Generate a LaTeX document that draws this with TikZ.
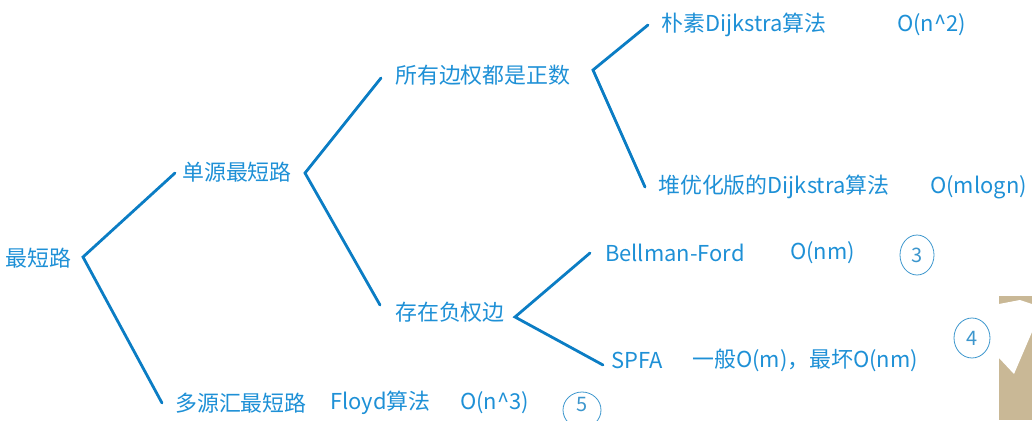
\documentclass[tikz,border=0pt]{standalone}
\usepackage{fontspec}
\setmainfont{Noto Sans CJK SC}
\definecolor{txtblue}{RGB}{30,144,214}
\definecolor{lineblue}{RGB}{11,125,196}
\definecolor{penblue}{RGB}{60,150,205}
\definecolor{wall}{RGB}{201,184,150}

\begin{document}
\begin{tikzpicture}[x=1bp,y=-1bp,
    item/.style={anchor=west, inner sep=0pt, text=txtblue, font=\fontsize{22}{26}\selectfont},
    branch/.style={draw=lineblue, line width=2.8bp, line cap=round, line join=miter},
    ring/.style={draw=penblue, line width=0.8bp},
    hand/.style={text=penblue, font=\fontsize{20}{22}\selectfont}]
    \useasboundingbox (0,0) rectangle (1032,420);
    \clip (0,0) rectangle (1032,420);
    % tree labels
    \node[item] (root) at (5,258) {最短路};
    \node[item] (single) at (182,172) {单源最短路};
    \node[item] (multi) at (175,403) {多源汇最短路};
    \node[item] (floyd) at (330,403) {Floyd算法};
    \node[item] (ofloyd) at (460,403) {O(n\^{}3)};
    \node[item] (pos) at (395,75) {所有边权都是正数};
    \node[item] (neg) at (395,312) {存在负权边};
    \node[item] (naive) at (661,25) {朴素Dijkstra算法};
    \node[item] (onaive) at (897,25) {O(n\^{}2)};
    \node[item] (heap) at (658,187) {堆优化版的Dijkstra算法};
    \node[item] (oheap) at (930,187) {O(mlogn)};
    \node[item] (bf) at (605,253) {Bellman-Ford};
    \node[item] (obf) at (790,253) {O(nm)};
    \node[item] (spfa) at (611,360) {SPFA};
    \node[item] (ospfa) at (692,360) {一般O(m)，最坏O(nm)};
    % fork points
    \coordinate (f1) at (83,257);
    \coordinate (f2) at (305,173);
    \coordinate (f3) at (593,70);
    \coordinate (f4) at (515,317);
    \coordinate (e1) at (175,173);
    \coordinate (e2) at (162,403);
    \coordinate (e3) at (381,78);
    \coordinate (e4) at (380,305);
    \coordinate (e5) at (648,25);
    \coordinate (e6) at (645,187);
    \coordinate (e7) at (590,253);
    \coordinate (e8) at (603,365);
    \draw[branch] (e1) -- (f1) -- (e2);
    \draw[branch] (e3) -- (f2) -- (e4);
    \draw[branch] (e5) -- (f3) -- (e6);
    \draw[branch] (e7) -- (f4) -- (e8);
    % pen marks
    \draw[ring] (917,255) ellipse (17bp and 20bp);
    \node[hand] (n3) at (917,255) {3};
    \draw[ring] (972,338) ellipse (18bp and 20bp);
    \node[hand] (n4) at (972,338) {4};
    \draw[ring] (582,410) ellipse (19bp and 18bp);
    \node[hand] (n5) at (582,405) {5};
    % camera corner
    \fill[wall] (999,296) rectangle (1032,420);
    \fill[white] (999,304) -- (1020,300) -- (1032,304) -- (1032,332) -- (1014,374) -- (999,358) -- cycle;
\end{tikzpicture}
\end{document}
